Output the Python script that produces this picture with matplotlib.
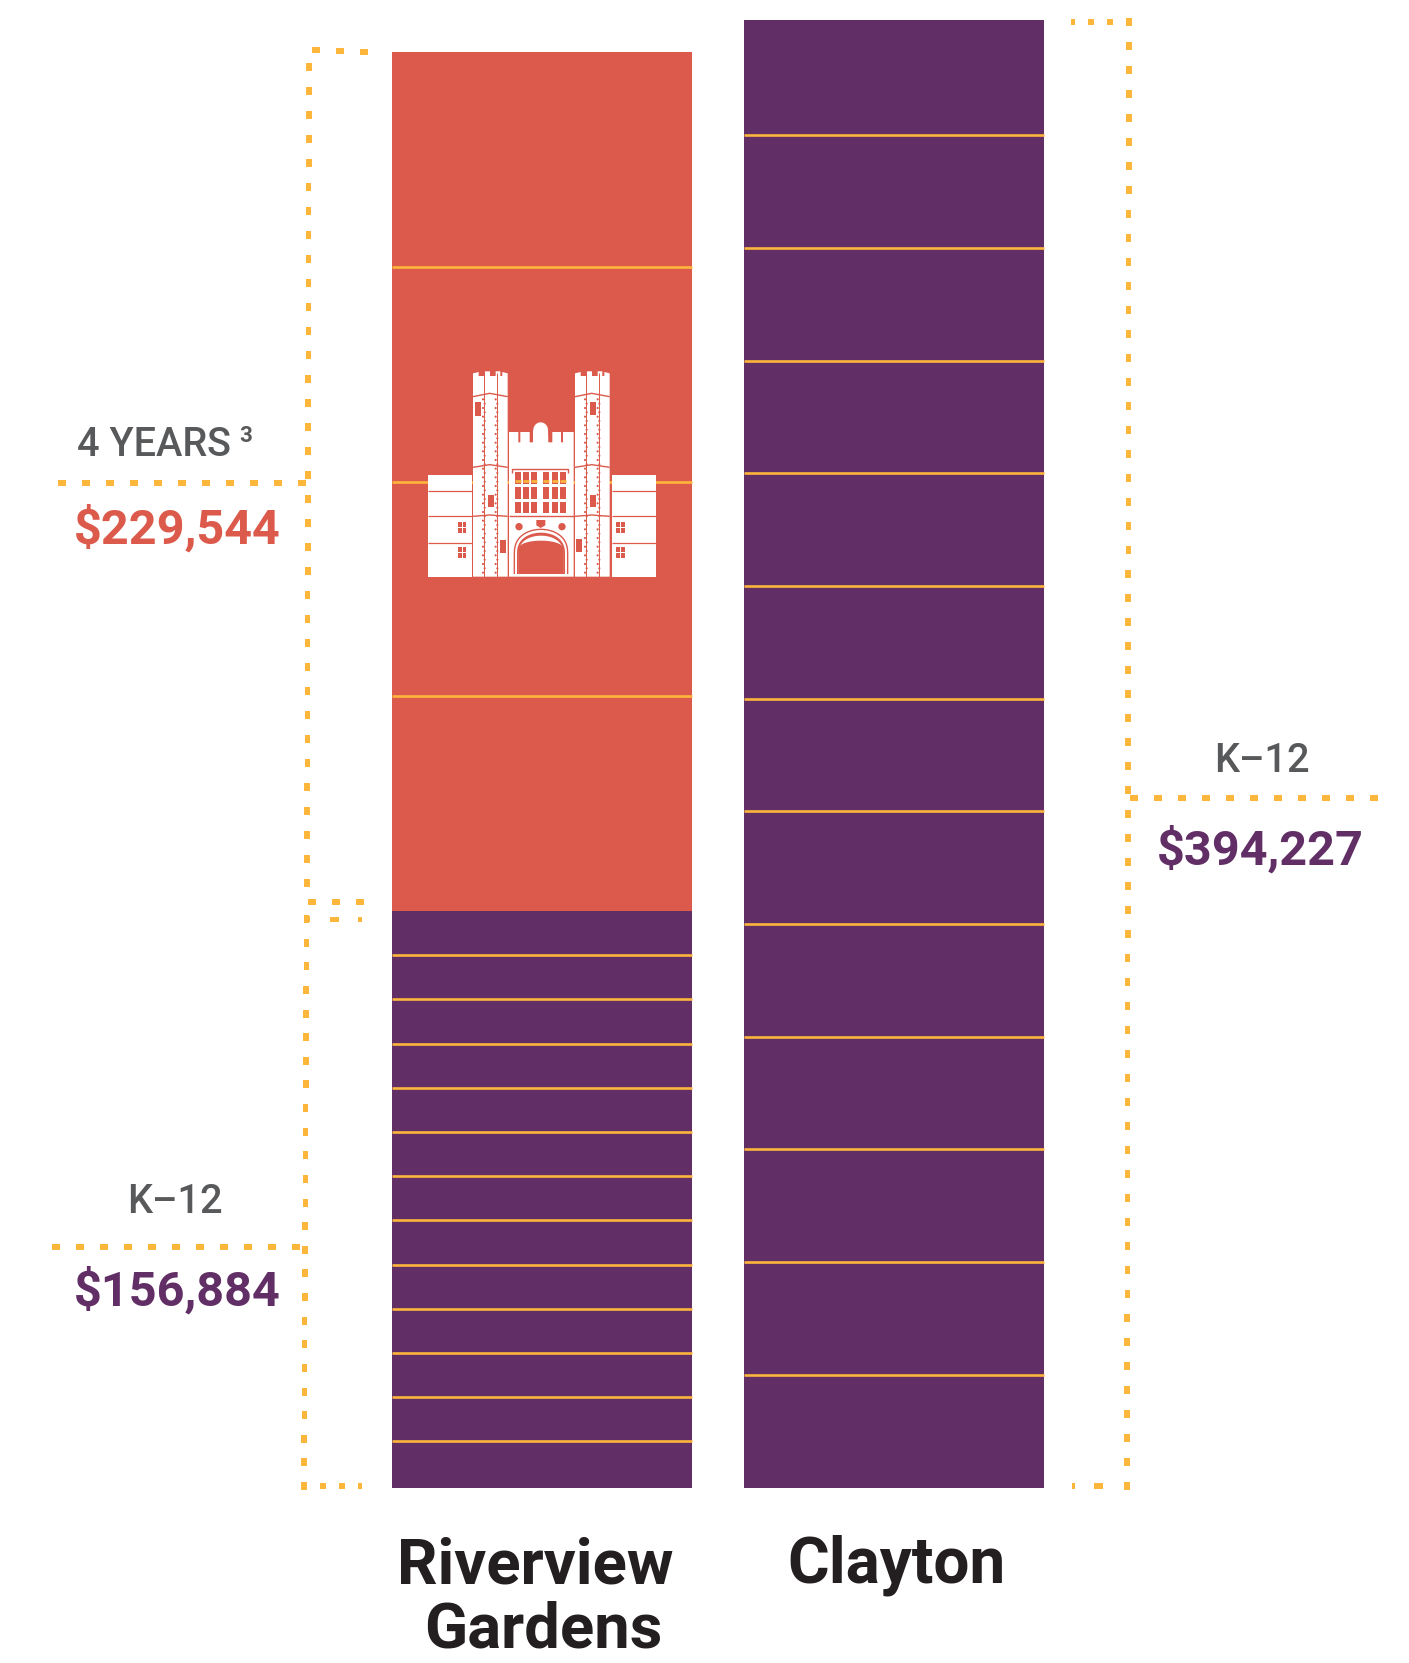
"""Lifetime public spending per student, Riverview Gardens against Clayton."""
import matplotlib

matplotlib.use("Agg")
import matplotlib.pyplot as plt
from matplotlib.patches import Circle, Polygon, Rectangle
from matplotlib.transforms import Affine2D
import numpy as np

WIDTH, HEIGHT = 1409, 1663

CORAL = "#DC5A4B"
PURPLE = "#612F66"
GOLD = "#FDB63C"
GREY = "#58595B"
DARK = "#231F20"
WHITE = "#FFFFFF"

categories = ["Riverview\nGardens", "Clayton"]

# one entry per school year, heights read off the bars themselves
# (the drawn bars are a little off the printed totals)
riverview_k12_years = [12400] + [11872] * 12
riverview_college_years = [57690] * 4
clayton_k12_years = [30325] + [30268] * 11 + [30954]

# totals as printed next to the bars
riverview_k12_total = 156884
riverview_college_total = 229544
clayton_k12_total = 394227

plt.rcParams["font.family"] = ["Roboto", "DejaVu Sans"]

fig = plt.figure(figsize=(WIDTH / 100, HEIGHT / 100), dpi=100)
ax = fig.add_axes([0, 0, 1, 1])
ax.set_xlim(-541.5 / 352, (WIDTH - 541.5) / 352)
ax.set_ylim(-(HEIGHT - 1487.5) * 268.64, 1487.5 * 268.64)
ax.axis("off")

# pixels from the top left corner, for the annotation furniture
px = Affine2D().scale(1, -1).translate(0, HEIGHT)


def draw_segments(x, years, start, colour):
    """Draw one solid block with a gold rule between the years."""
    edges = start + np.cumsum(years)
    ax.bar(x, sum(years), bottom=start, width=300 / 352, color=colour, linewidth=0, zorder=2)
    for edge in edges[:-1]:
        ax.plot([x - 150 / 352, x + 150 / 352], [edge, edge], color=GOLD, lw=1.9,
                solid_capstyle="butt", zorder=3)
    return edges[-1]


riverview_top = draw_segments(0, riverview_k12_years, 0, PURPLE)
draw_segments(0, riverview_college_years, riverview_top, CORAL)
draw_segments(1, clayton_k12_years, 0, PURPLE)


def dot(x, y, w, h):
    ax.add_patch(Rectangle((x - w / 2, y - h / 2), w, h, color=GOLD, lw=0,
                           transform=px, clip_on=False, zorder=2))


def dots_h(x_start, y, count, step=24, w=8):
    for i in range(count):
        dot(x_start + i * step, y, w, 5.5)


def dots_v(x_top, x_bottom, y_top, y_bottom, step):
    ys = np.arange(y_top, y_bottom + 1, step)
    xs = np.linspace(x_top, x_bottom, len(ys))
    for x, y in zip(xs, ys):
        dot(x, y, 5.5, 8)


# left brackets
for x, y in zip([316, 340, 364], [50, 51, 52]):
    dot(x, y, 8, 5.5)
dots_v(309, 307, 67, 883, 24)
dots_h(312, 902, 3)
dot(334, 919, 9, 5)
dot(360, 919, 4, 5)
dot(307, 919, 6, 6)
dots_v(306.5, 304, 919, 1486, 23.625)
dots_h(323, 1486, 2, step=19, w=6)
dot(360, 1486, 4, 6)

# right bracket
dot(1073, 22, 4, 6)
dot(1091, 22, 6, 6)
dot(1110, 22, 6, 6)
dots_v(1129, 1127, 22, 1486, 24)
dot(1073, 1486, 3, 6)
dot(1098, 1486, 9, 6)

# leader lines to the value labels
dots_h(62, 483, 11)
dots_h(56, 1247, 11)
dots_h(1134, 798, 11)


def label(x, y, text, size, colour, weight="normal", ha="left"):
    ax.text(x, y, text, fontsize=size, color=colour, fontweight=weight, ha=ha, va="baseline",
            transform=px, zorder=5, linespacing=1.0)


label(77, 456, "4 YEARS", 28.5, GREY, weight="medium")
label(239, 442, "3", 16, GREY, weight="bold")
label(74, 544, f"${riverview_college_total:,}", 35, CORAL, weight="bold")
label(127, 1213, "K\u201312", 28.5, GREY, weight="medium")
label(74, 1306, f"${riverview_k12_total:,}", 35, PURPLE, weight="bold")
label(1214, 772, "K\u201312", 28.5, GREY, weight="medium")
label(1157, 865, f"${clayton_k12_total:,}", 35, PURPLE, weight="bold")

riverview_lines = categories[0].split("\n")
label(535, 1583, riverview_lines[0], 45.6, DARK, weight="bold", ha="center")
label(543, 1647, riverview_lines[1], 45.6, DARK, weight="bold", ha="center")
label(896, 1583, categories[1], 46, DARK, weight="bold", ha="center")

# building icon, sketched on a 3x grid from (380, 350)
icon = Affine2D().scale(1 / 3, -1 / 3).translate(380, HEIGHT - 350)


def shape(points, colour=WHITE, z=4):
    ax.add_patch(Polygon(points, closed=True, fc=colour, ec="none", transform=icon,
                         clip_on=False, zorder=z))


def box(x0, y0, x1, y1, colour=WHITE, z=4):
    shape([(x0, y0), (x1, y0), (x1, y1), (x0, y1)], colour, z)


def stroke(xs, ys, lw=0.8, colour=CORAL):
    ax.plot(xs, ys, color=colour, lw=lw, transform=icon, clip_on=False, zorder=4.5,
            solid_capstyle="butt")


def tower(x0, windows):
    x1 = x0 + 104
    shape([(x0, 70), (x0 + 17, 66), (x0 + 17, 78), (x0 + 36, 78), (x0 + 36, 64), (x0 + 51, 64),
           (x0 + 51, 78), (x0 + 68, 78), (x0 + 68, 64), (x0 + 82, 64), (x0 + 82, 78),
           (x0 + 88, 78), (x0 + 88, 66), (x1, 70), (x1, 680), (x0, 680)])
    for y_side, y_mid in [(140, 130), (352, 344), (499, 495)]:
        stroke([x0, x0 + 50, x1], [y_side, y_mid, y_side], lw=1.0)
    for line_x in (x0 + 33, x0 + 71):
        stroke([line_x, line_x], [68, 680], lw=0.7)
        for i, y in enumerate(np.arange(148, 672, 13)):
            ax.add_patch(Circle((line_x - 3 + (i % 2) * 5, y), 3.2, fc=CORAL, ec="none",
                                transform=icon, clip_on=False, zorder=4.6))
    for win in windows:
        box(*win, colour=CORAL, z=4.7)


def small_window(x0, y0):
    for dx in (0, 14):
        for dy in (0, 18):
            box(x0 + dx, y0 + dy, x0 + dx + 11, y0 + dy + 15, CORAL, 4.7)


def arch(half_width, spring_y, top_y, bottom_y=672):
    """Round shouldered gate outline, centred on the gatehouse."""
    angles = np.linspace(np.pi, 0, 30)
    rise = spring_y - top_y
    curve = [(483 + half_width * np.cos(a), spring_y - rise * np.sin(a) ** 0.8) for a in angles]
    return [(483 - half_width, bottom_y)] + curve + [(483 + half_width, bottom_y)]


for x0 in (143, 695):
    box(x0, 376, x0 + 132, 680)
    for y in (423, 499, 579):
        stroke([x0, x0 + 132], [y, y], lw=0.9)
small_window(234, 516)
small_window(234, 591)
small_window(709, 516)
small_window(709, 591)

tower(279, [(285, 155, 302, 197), (323, 435, 341, 472), (361, 570, 379, 610)])
tower(585, [(629, 157, 647, 195), (629, 435, 647, 472), (589, 567, 606, 607)])

# gatehouse with its battlement and dome
dome = np.linspace(np.pi, 0, 16)
shape([(387, 246), (415, 246), (415, 277), (421, 277), (421, 246), (449, 246), (449, 277),
       (459, 277), (459, 240)]
      + [(482 + 22 * np.cos(a), 240 - 23 * np.sin(a)) for a in dome]
      + [(505, 277), (517, 277), (517, 246), (543, 246), (543, 277), (549, 277), (549, 246),
         (581, 246), (581, 680), (387, 680)])
stroke([397, 397, 565, 565], [368, 357, 357, 368], lw=1.0)
stroke([387, 581], [497, 497], lw=1.0)
for x0, x1 in [(405, 423), (430, 447), (454, 472), (490, 508), (515, 533), (540, 558)]:
    for y0, y1 in [(367, 401), (412, 446), (457, 490)]:
        box(x0, y0, x1, y1, CORAL, 4.7)
    stroke([x0, x1], [394, 394], lw=1.9, colour=GOLD)
    ax.lines[-1].set_zorder(4.8)
for x in (417, 546):
    ax.add_patch(Circle((x, 530), 11, fc=CORAL, ec="none", transform=icon, clip_on=False,
                        zorder=4.7))
shape([(469, 510), (496, 510), (496, 526), (482, 534), (469, 526)], CORAL, 4.7)

# gate arch, coral band, white crescent then the opening
xs, ys = zip(*arch(80, 612, 538))
stroke(xs, ys, lw=1.0)
shape(arch(72, 612, 548), CORAL, 4.7)
shape(arch(67, 612, 557), WHITE, 4.75)
shape(arch(68, 600, 572), CORAL, 4.8)

fig.savefig("out.png", dpi=100)
